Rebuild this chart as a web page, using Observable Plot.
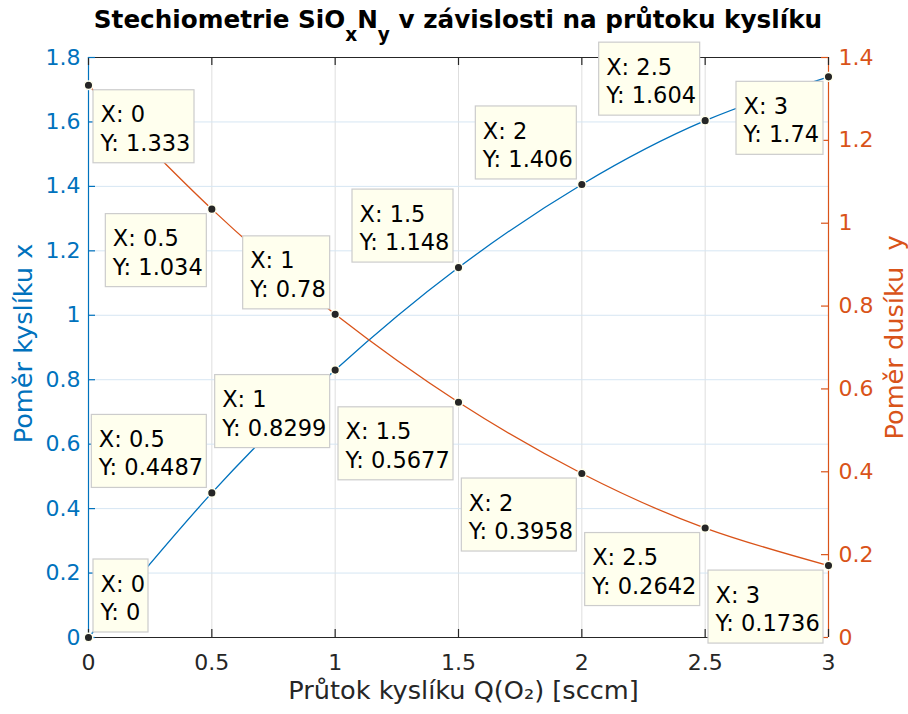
<!DOCTYPE html>
<html><head><meta charset="utf-8">
<script src="https://cdn.jsdelivr.net/npm/d3@7"></script>
<script src="https://cdn.jsdelivr.net/npm/@observablehq/plot@0.6"></script>
<style>
body{margin:0;background:#fff;font-family:"DejaVu Sans";}
#title{width:740px;margin-left:88px;height:40px;box-sizing:border-box;padding-top:8px;font:bold 24.7px "DejaVu Sans";line-height:23px;text-align:center;color:#000;white-space:nowrap;}
#title sub{font-size:0.75em;line-height:0;vertical-align:-13px;}
</style></head><body>
<div id="title">Stechiometrie SiO<sub>x</sub>N<sub>y</sub> v závislosti na průtoku kyslíku</div>
<div id="chart"></div>
<script>
// ---- data ----
const flow = [0, 0.5, 1, 1.5, 2, 2.5, 3];
const oxygenRatio = [0, 0.4487, 0.8299, 1.148, 1.406, 1.604, 1.74];
const nitrogenRatio = [1.333, 1.034, 0.78, 0.5677, 0.3958, 0.2642, 0.1736];
const xTicks = [0, 0.5, 1, 1.5, 2, 2.5, 3];
const leftTicks = [0, 0.2, 0.4, 0.6, 0.8, 1, 1.2, 1.4, 1.6, 1.8];
const rightTicks = [0, 0.2, 0.4, 0.6, 0.8, 1, 1.2, 1.4];
const oxygenTipPlacement = ["ne", "nw", "sw", "nw", "nw", "nw", "sw"];
const nitrogenTipPlacement = ["se", "sw", "nw", "sw", "sw", "sw", "sw"];
const xLabel = "Průtok kyslíku Q(O₂) [sccm]";
const leftLabel = "Poměr kyslíku x";
const rightLabel = "Poměr dusíku\u00a0 y";

// ---- style ----
const blue = "#0072BD", orange = "#D95319", dark = "#262626";
const W = 908, H = 674, mt = 17, mb = 77, ml = 88, mr = 80;
const plotW = W - ml - mr, plotH = H - mt - mb;
const k = 1.8 / 1.4; // right axis -> left axis units
const tipFont = 22.5, tipLine = 1.26, tipPadL = 7, tipPadR = 4, tipH = 73, tipGap = 5;
const tickFont = 22, labelFont = 25.6;

const ctx = document.createElement("canvas").getContext("2d");
ctx.font = `${tipFont}px "DejaVu Sans"`;

const oxygenPts = flow.map((x, i) => ({x, y: oxygenRatio[i], v: oxygenRatio[i], place: oxygenTipPlacement[i]}));
const nitrogenPts = flow.map((x, i) => ({x, y: nitrogenRatio[i] * k, v: nitrogenRatio[i], place: nitrogenTipPlacement[i]}));
const tips = [...oxygenPts, ...nitrogenPts].map(d => {
  const l1 = `X: ${d.x}`, l2 = `Y: ${d.v}`;
  const w = Math.round(Math.max(ctx.measureText(l1).width, ctx.measureText(l2).width) + tipPadL + tipPadR);
  return {...d, label: `${l1}\n${l2}`, w};
});

function tipMarks(t) {
  const east = t.place[1] === "e", north = t.place[0] === "n";
  const w = t.w, h = tipH, g = tipGap;
  return [
    Plot.rect([t], {
      x1: "x", x2: "x", y1: "y", y2: "y",
      insetLeft: east ? g : -(g + w), insetRight: east ? -(g + w) : g,
      insetTop: north ? -(g + h) : g, insetBottom: north ? g : -(g + h),
      fill: "#FFFFEE", stroke: "#CCCCCC", strokeWidth: 1.2
    }),
    Plot.text([t], {
      x: "x", y: "y", text: "label", textAnchor: "start", lineAnchor: "top",
      lineHeight: tipLine, fontSize: tipFont, fill: "#000",
      dx: (east ? g : -(g + w)) + tipPadL,
      dy: (north ? -(g + h) : g) + 12
    })
  ];
}

const chart = Plot.plot({
  width: W, height: H,
  marginTop: mt, marginBottom: mb, marginLeft: ml, marginRight: mr,
  style: {fontFamily: "DejaVu Sans", fontSize: "22px", background: "#fff", overflow: "visible"},
  x: {domain: [0, 3]},
  y: {domain: [0, 1.8]},
  marks: [
    // grid
    Plot.ruleX(xTicks, {stroke: "#dedede", strokeWidth: 1}),
    Plot.ruleY(leftTicks, {stroke: "#d6e6f3", strokeWidth: 1}),
    // series
    Plot.line(oxygenPts, {x: "x", y: "y", stroke: blue, strokeWidth: 1.3, curve: "natural"}),
    Plot.line(nitrogenPts, {x: "x", y: "y", stroke: orange, strokeWidth: 1.3, curve: "natural"}),
    // box lines
    Plot.ruleY([0], {stroke: dark, strokeWidth: 1.2}),
    Plot.ruleY([1.8], {stroke: dark, strokeWidth: 1.2}),
    Plot.ruleX([0], {stroke: blue, strokeWidth: 1.2}),
    Plot.ruleX([3], {stroke: orange, strokeWidth: 1.2}),
    // inward ticks
    Plot.ruleX(xTicks, {stroke: dark, strokeWidth: 1.2, insetTop: plotH - 8}),
    Plot.ruleX(xTicks, {stroke: dark, strokeWidth: 1.2, insetBottom: plotH - 8}),
    Plot.ruleY(leftTicks, {stroke: blue, strokeWidth: 1.2, insetRight: plotW - 7}),
    Plot.ruleY(rightTicks.map(v => v * k), {stroke: orange, strokeWidth: 1.2, insetLeft: plotW - 7}),
    // data tips
    ...tips.flatMap(tipMarks),
    Plot.dot(tips, {x: "x", y: "y", r: 4.3, fill: dark, stroke: "#FFFFEE", strokeWidth: 1.5}),
    // tick labels
    Plot.axisX(xTicks, {tickSize: 0, tickPadding: 17, fontSize: tickFont, fill: dark, label: null, tickFormat: d => String(d)}),
    Plot.axisY(leftTicks, {anchor: "left", tickSize: 0, tickPadding: 8, fontSize: tickFont, fill: blue, label: null, tickFormat: d => String(d)}),
    Plot.axisY(rightTicks.map(v => v * k), {anchor: "right", tickSize: 0, tickPadding: 10, fontSize: tickFont, fill: orange, label: null, tickFormat: d => String(+(d / k).toFixed(4))}),
    // axis titles
    Plot.text([xLabel], {text: d => d, frameAnchor: "bottom", textAnchor: "middle", lineAnchor: "bottom", dx: 5, dy: 61, fontSize: labelFont, fill: dark}),
    Plot.text([leftLabel], {text: d => d, frameAnchor: "left", rotate: -90, textAnchor: "middle", lineAnchor: "top", dx: -75, dy: -4, fontSize: labelFont, fill: blue}),
    Plot.text([rightLabel], {text: d => d, frameAnchor: "right", rotate: -90, textAnchor: "middle", lineAnchor: "bottom", dx: 74, dy: -10, fontSize: labelFont, fill: orange})
  ]
});
document.getElementById("chart").appendChild(chart);
</script>
</body></html>
